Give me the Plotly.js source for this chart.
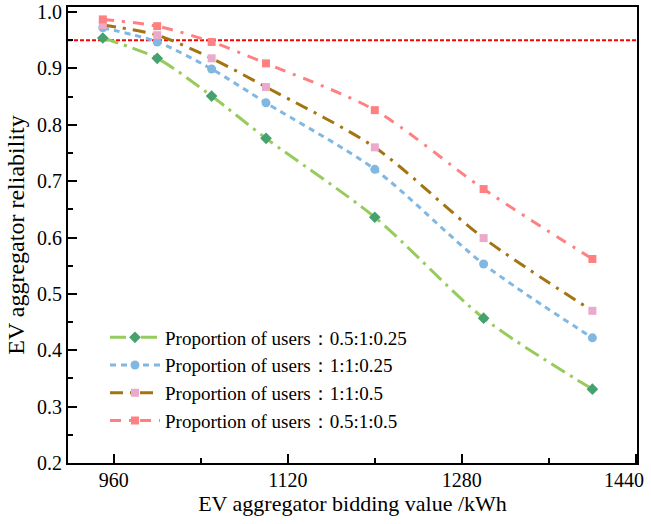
<!DOCTYPE html>
<html>
<head>
<meta charset="utf-8">
<script src="https://cdn.plot.ly/plotly-3.0.1.min.js"></script>
<style>html,body{margin:0;padding:0;background:#fff;}#chart{width:651px;height:524px;}</style>
</head>
<body>
<div id="chart"></div>
<script>
const bidding = [950, 1000, 1050, 1100, 1200, 1300, 1400];
const rel_05_1_025 = [0.954, 0.918, 0.851, 0.776, 0.636, 0.457, 0.331];
const rel_1_1_025  = [0.972, 0.947, 0.899, 0.839, 0.721, 0.553, 0.422];
const rel_1_1_05   = [0.977, 0.959, 0.918, 0.867, 0.760, 0.599, 0.470];
const rel_05_1_05  = [0.987, 0.975, 0.947, 0.909, 0.826, 0.686, 0.562];
const seriesNames = ['Proportion of users：0.5:1:0.25', 'Proportion of users：1:1:0.25', 'Proportion of users：1:1:0.5', 'Proportion of users：0.5:1:0.5'];
const threshold = [0.95];
const xTicks = [960, 1120, 1280, 1440];
const yTicks = [0.2, 0.3, 0.4, 0.5, 0.6, 0.7, 0.8, 0.9, 1.0];

const font = 'Liberation Serif';
const lastX = xTicks[xTicks.length - 1];
function tr(y, name, lineColor, dash, mColor, symbol, msize) {
  return {x: bidding, y: y, name: name, type: 'scatter', mode: 'lines+markers',
    line: {color: lineColor, width: 3, dash: dash, shape: 'spline', smoothing: 0.8},
    marker: {color: mColor, symbol: symbol, size: msize}};
}
const data = [
  tr(rel_05_1_025, seriesNames[0], '#97CB5B', '16px,6px,3px,6px', '#45A26F', 'diamond', 9),
  tr(rel_1_1_025, seriesNames[1], '#80B8E2', '6px,5px', '#80B8E2', 'circle', 9),
  tr(rel_1_1_05, seriesNames[2], '#A3740F', '13px,7px,3px,7px', '#EBA9CB', 'square', 8),
  tr(rel_05_1_05, seriesNames[3], '#FF8080', '11px,8px,3px,8px', '#FF8080', 'square', 8)
];
const layout = {
  width: 651, height: 524,
  margin: {l: 68, r: 14, t: 7, b: 61},
  paper_bgcolor: '#fff', plot_bgcolor: '#fff',
  font: {family: font, size: 20, color: '#000'},
  showlegend: true,
  legend: {x: 0.065, y: 0.317, xanchor: 'left', yanchor: 'top', bgcolor: 'rgba(0,0,0,0)',
    font: {family: font, size: 19, color: '#000'}, tracegroupgap: 0, itemwidth: 50},
  xaxis: {range: [918, 1441], tickvals: xTicks, ticktext: xTicks.map(v => v === lastX ? '' : String(v)),
    ticks: 'inside', ticklen: 9, tickwidth: 2, tickcolor: '#000', ticklabelstandoff: -2,
    minor: {dtick: 80, tick0: 960, ticks: 'inside', ticklen: 5, tickwidth: 2, tickcolor: '#000'},
    showline: true, linewidth: 2, linecolor: '#000', mirror: true, showgrid: false, zeroline: false,
    title: {text: 'EV aggregator bidding value /kWh', font: {family: font, size: 22, color: '#000'}, standoff: 6},
    tickfont: {family: font, size: 20, color: '#000'}},
  yaxis: {range: [0.2, 1.009], tickvals: yTicks, ticktext: yTicks.map(v => v.toFixed(1)),
    ticks: 'inside', ticklen: 9, tickwidth: 2, tickcolor: '#000', ticklabelstandoff: 0,
    minor: {dtick: 0.05, tick0: 0.2, ticks: 'inside', ticklen: 5, tickwidth: 2, tickcolor: '#000'},
    showline: true, linewidth: 2, linecolor: '#000', mirror: true, showgrid: false, zeroline: false,
    title: {text: 'EV aggregator reliability', font: {family: font, size: 24, color: '#000'}, standoff: 6},
    tickfont: {family: font, size: 20, color: '#000'}},
  shapes: [{type: 'line', xref: 'paper', x0: 0, x1: 1, yref: 'y', y0: threshold[0], y1: threshold[0],
    line: {color: '#FF0000', width: 2, dash: '4px,2px'}, layer: 'below'}],
  annotations: [{x: lastX, xref: 'x', y: 0, yref: 'paper', text: String(lastX), showarrow: false,
    xanchor: 'right', yanchor: 'middle', xshift: 10, yshift: -17,
    font: {family: font, size: 20, color: '#000'}}]
};
Plotly.newPlot('chart', data, layout, {displayModeBar: false, staticPlot: true});
</script>
</body>
</html>
